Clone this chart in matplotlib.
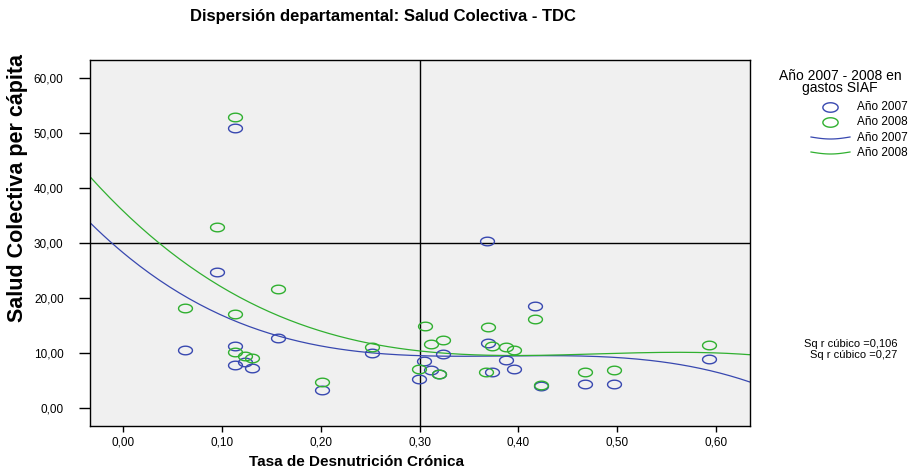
import numpy as np
import matplotlib.pyplot as plt
from matplotlib.path import Path

# Tasa de desnutrición crónica (TDC) por departamento
tdc_2007 = [0.063, 0.095, 0.114, 0.114, 0.114, 0.124, 0.131, 0.157, 0.201, 0.252,
            0.299, 0.305, 0.312, 0.320, 0.324, 0.368, 0.369, 0.373, 0.387, 0.396,
            0.417, 0.423, 0.467, 0.497, 0.593]
salud_2007 = [10.5, 24.8, 51.0, 11.3, 7.8, 8.3, 7.2, 12.8, 3.2, 9.9,
              5.2, 8.5, 6.8, 6.2, 9.8, 30.3, 11.8, 6.5, 8.8, 7.0,
              18.5, 3.9, 4.4, 4.3, 8.9]

tdc_2008 = [0.063, 0.095, 0.114, 0.114, 0.114, 0.124, 0.131, 0.157, 0.201, 0.252,
            0.299, 0.306, 0.312, 0.320, 0.324, 0.367, 0.369, 0.373, 0.387, 0.396,
            0.417, 0.423, 0.467, 0.497, 0.593]
salud_2008 = [18.2, 32.9, 53.0, 17.0, 10.2, 9.5, 9.0, 21.7, 4.7, 11.0,
              7.0, 14.9, 11.6, 6.2, 12.4, 6.6, 14.8, 11.3, 11.1, 10.5,
              16.1, 4.2, 6.5, 6.9, 11.5]

xticks = [0.0, 0.1, 0.2, 0.3, 0.4, 0.5, 0.6]
yticks = [0, 10, 20, 30, 40, 50, 60]

azul = '#3848b0'
verde = '#30b030'

plt.rcParams['font.family'] = ['Liberation Sans', 'DejaVu Sans']

# marcador eliptico hueco como en SPSS
t = np.linspace(0, 2 * np.pi, 40)
elipse = Path(np.column_stack([np.cos(t), 0.62 * np.sin(t)]), closed=True)

fig = plt.figure(figsize=(9.13, 4.74), dpi=100)
ax = fig.add_axes([90 / 913, 1 - 426 / 474, 660 / 913, 366 / 474])
ax.set_facecolor('#f0f0f0')

x_min, x_max = -0.033, 0.634
ax.set_xlim(x_min, x_max)
ax.set_ylim(-3.3, 63.3)

ax.axvline(0.30, color='black', lw=1, zorder=1)
ax.axhline(30, color='black', lw=1, zorder=1)

# ajuste cubico
xs = np.linspace(x_min, x_max, 200)
for x, y, c in [(tdc_2007, salud_2007, azul), (tdc_2008, salud_2008, verde)]:
    coef = np.polyfit(x, y, 3)
    ax.plot(xs, np.polyval(coef, xs), color=c, lw=0.9, zorder=2)

ax.plot(tdc_2007, salud_2007, ls='none', marker=elipse, ms=10, mfc='none', mec=azul, mew=1, zorder=3)
ax.plot(tdc_2008, salud_2008, ls='none', marker=elipse, ms=10, mfc='none', mec=verde, mew=1, zorder=3)

ax.set_xticks(xticks)
ax.set_xticklabels([('%.2f' % v).replace('.', ',') for v in xticks], fontsize=8.5)
ax.set_yticks(yticks)
ax.set_yticklabels([('%.2f' % v).replace('.', ',') for v in yticks], fontsize=8.5)
ax.tick_params(axis='x', direction='out', length=4.5, width=1, pad=3)
ax.tick_params(axis='y', direction='out', length=8, width=1, pad=11)
for s in ax.spines.values():
    s.set_linewidth(1)

fig.text(383 / 913, 1 - 17 / 474, 'Dispersión departamental: Salud Colectiva - TDC',
         ha='center', va='center', fontsize=12, fontweight='bold')
fig.text(356 / 913, 1 - 462 / 474, 'Tasa de Desnutrición Crónica',
         ha='center', va='center', fontsize=11, fontweight='bold')
fig.text(18 / 913, 1 - 188 / 474, 'Salud Colectiva per cápita', rotation=90,
         ha='center', va='center', fontsize=15.5, fontweight='bold')

# leyenda
fig.text(840 / 913, 1 - 82 / 474, 'Año 2007 - 2008 en\ngastos SIAF', ha='center', va='center',
         fontsize=10, linespacing=0.9)
filas = [107, 122, 138, 153]
fig.add_artist(plt.Line2D([830 / 913], [1 - filas[0] / 474], ls='none', marker=elipse, ms=11,
                          mfc='none', mec=azul, mew=1))
fig.add_artist(plt.Line2D([830 / 913], [1 - filas[1] / 474], ls='none', marker=elipse, ms=11,
                          mfc='none', mec=verde, mew=1))
ox = np.linspace(811, 850, 20)
ola = np.sin(np.linspace(0, np.pi, 20)) * 2
fig.add_artist(plt.Line2D(ox / 913, 1 - (filas[2] + ola - 1) / 474, color=azul, lw=0.9))
fig.add_artist(plt.Line2D(ox / 913, 1 - (filas[3] + ola - 1) / 474, color=verde, lw=0.9))
for f, lab in zip(filas, ['Año 2007', 'Año 2008', 'Año 2007', 'Año 2008']):
    fig.text(857 / 913, 1 - f / 474, lab, ha='left', va='center', fontsize=8.5)

fig.text(897 / 913, 1 - 344 / 474, 'Sq r cúbico =0,106', ha='right', va='center', fontsize=8)
fig.text(897 / 913, 1 - 355 / 474, 'Sq r cúbico =0,27', ha='right', va='center', fontsize=8)

fig.savefig('out.png', dpi=100)
